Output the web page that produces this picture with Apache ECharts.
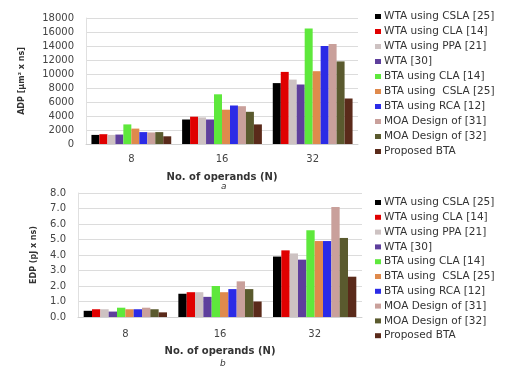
<!DOCTYPE html>
<html><head><meta charset="utf-8">
<script src="https://cdn.jsdelivr.net/npm/echarts@6/dist/echarts.min.js"></script>
<style>html,body{margin:0;padding:0;background:#fff}#c{width:515px;height:367px}</style>
</head><body><div id="c"></div>
<script>
const categories = ['8', '16', '32'];
const seriesNames = ['WTA using CSLA [25]', 'WTA using CLA [14]', 'WTA using PPA [21]', 'WTA [30]', 'BTA using CLA [14]', 'BTA using  CSLA [25]', 'BTA using RCA [12]', 'MOA Design of [31]', 'MOA Design of [32]', 'Proposed BTA'];
const colors = ['#000000', '#e00000', '#cdc2c2', '#5e3f9c', '#5ee83c', '#df8a4c', '#2b2be6', '#c9a09b', '#5a5a2e', '#5a2a1a'];
// ADP values, one array per series: [N=8, N=16, N=32]
const adp = [
  [1300, 3500, 8700],
  [1400, 3900, 10300],
  [1300, 3800, 9200],
  [1350, 3500, 8500],
  [2800, 7100, 16500],
  [2200, 4900, 10400],
  [1700, 5500, 14000],
  [1650, 5400, 14300],
  [1700, 4600, 11800],
  [1100, 2800, 6500]
];
// EDP values, one array per series: [N=8, N=16, N=32]
const edp = [
  [0.4, 1.5, 3.9],
  [0.5, 1.6, 4.3],
  [0.5, 1.6, 4.1],
  [0.35, 1.3, 3.7],
  [0.6, 2.0, 5.6],
  [0.5, 1.6, 4.9],
  [0.5, 1.8, 4.9],
  [0.6, 2.3, 7.1],
  [0.5, 1.8, 5.1],
  [0.3, 1.0, 2.6]
];
const adpTicks = {min: 0, max: 18000, interval: 2000};
const edpTicks = {min: 0, max: 8, interval: 1};

const chart = echarts.init(document.getElementById('c'), null, {renderer: 'canvas'});
const font = 'DejaVu Sans';
const series = [];
seriesNames.forEach((n, i) => {
  series.push({name: n, type: 'bar', xAxisIndex: 0, yAxisIndex: 0, data: adp[i], barGap: '0%', barCategoryGap: '12%', itemStyle: {color: colors[i]}});
});
seriesNames.forEach((n, i) => {
  series.push({name: n, type: 'bar', xAxisIndex: 1, yAxisIndex: 1, data: edp[i], barGap: '0%', barCategoryGap: '12%', itemStyle: {color: colors[i]}});
});
const legendCommon = {orient: 'vertical', data: seriesNames, itemWidth: 6, itemHeight: 5, itemGap: 4, icon: 'rect', selectedMode: false,
  textStyle: {fontFamily: font, fontSize: 10.5, lineHeight: 10, color: '#333', padding: [0, 0, 0, -2]}};
const xCommon = (gi, margin, gap) => ({type: 'category', gridIndex: gi, data: categories,
  axisLine: {lineStyle: {color: '#d0d0d0'}}, axisTick: {show: false},
  axisLabel: {fontFamily: font, fontSize: 10, color: '#444', margin: margin},
  name: 'No. of operands (N)', nameLocation: 'middle', nameGap: gap,
  nameTextStyle: {fontFamily: font, fontSize: 10, fontWeight: 'bold', color: '#333'}});
const yCommon = (gi, ticks, name, fmt, gap) => Object.assign({type: 'value', gridIndex: gi,
  axisLine: {show: true, lineStyle: {color: '#e0e0e0'}}, axisTick: {show: false},
  splitLine: {lineStyle: {color: '#dcdcdc'}},
  axisLabel: {fontFamily: font, fontSize: 10, color: '#444', margin: 12, formatter: fmt},
  name: name, nameLocation: 'middle', nameGap: gap, nameRotate: 90,
  nameTextStyle: {fontFamily: font, fontSize: 8, fontWeight: 'bold', color: '#333'}}, ticks);
chart.setOption({
  animation: false,
  backgroundColor: '#fff',
  title: [
    {text: 'a', left: 216, top: 177, textStyle: {fontFamily: font, fontSize: 9, fontStyle: 'italic', fontWeight: 'normal', color: '#333'}},
    {text: 'b', left: 215, top: 354, textStyle: {fontFamily: font, fontSize: 9, fontStyle: 'italic', fontWeight: 'normal', color: '#333'}}
  ],
  legend: [
    Object.assign({left: 370, top: 6}, legendCommon),
    Object.assign({left: 370, top: 192}, legendCommon, {itemGap: 3.8})
  ],
  grid: [
    {left: 86, right: 157, top: 18, bottom: 223},
    {left: 78, right: 153, top: 193, bottom: 50}
  ],
  xAxis: [xCommon(0, 10, 28), xCommon(1, 12, 29)],
  yAxis: [
    yCommon(0, adpTicks, 'ADP [\u00b5m\u00b2 x ns]', v => String(v), 60),
    yCommon(1, edpTicks, 'EDP (pJ x ns)', v => v.toFixed(1), 40)
  ],
  series: series
});
</script></body></html>
